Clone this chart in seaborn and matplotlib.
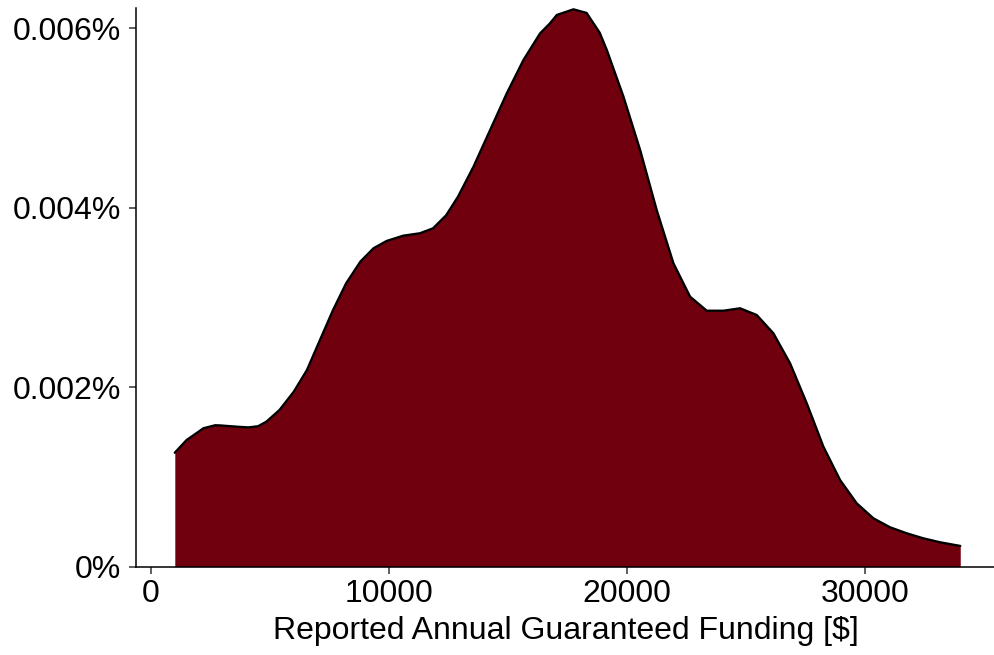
import matplotlib
matplotlib.use("Agg")
import matplotlib.pyplot as plt
import seaborn as sns
import pandas as pd
from matplotlib.ticker import FuncFormatter

# Density curve (x in $, density in %)
funding = [1000, 1500, 2000, 2200, 2700, 2900, 3600, 4100, 4500, 4850, 5400, 6000,
           6550, 7100, 7650, 8200, 8800, 9350, 9900, 10600, 11300, 11850, 12400,
           12900, 13550, 14250, 14950, 15650, 16350, 16750, 17050, 17750, 18300,
           18450, 18850, 19150, 19850, 20550, 21250, 21950, 22650, 23350, 24050,
           24750, 25450, 26150, 26850, 27550, 28250, 28950, 29650, 30350, 31050,
           31750, 32450, 33150, 34000]
density_pct = [0.001270, 0.001412, 0.001504, 0.001542, 0.001576, 0.001574, 0.001560,
               0.001552, 0.001565, 0.001616, 0.001746, 0.001950, 0.002190, 0.002526,
               0.002860, 0.003158, 0.003400, 0.003548, 0.003629, 0.003688, 0.003715,
               0.003770, 0.003915, 0.004123, 0.004457, 0.004866, 0.005275, 0.005646,
               0.005943, 0.006050, 0.006147, 0.006210, 0.006170, 0.006110, 0.005950,
               0.005757, 0.005237, 0.004643, 0.003970, 0.003380, 0.003008, 0.002852,
               0.002852, 0.002879, 0.002804, 0.002600, 0.002266, 0.001821, 0.001337,
               0.000966, 0.000706, 0.000539, 0.000439, 0.000372, 0.000316, 0.000272,
               0.000231]
x_ticks = [0, 10000, 20000, 30000]
y_ticks = [0, 0.002, 0.004, 0.006]
x_label = "Reported Annual Guaranteed Funding [$]"

df = pd.DataFrame({"funding": funding, "density": density_pct})

sns.set_theme(style="ticks")
plt.rcParams["font.family"] = ["Liberation Sans", "DejaVu Sans"]

fig = plt.figure(figsize=(9.95, 6.55), dpi=100)
ax = fig.add_axes([136 / 995, 88.3 / 655, (995 - 136) / 995, (566.7 - 8) / 655])

fill_col = "#71000F"
ax.fill_between(df["funding"], 0, df["density"], color=fill_col, linewidth=0, zorder=1)
sns.lineplot(data=df, x="funding", y="density", ax=ax, color="black", linewidth=1.7,
             zorder=2, sort=False)

ax.set_xlim(-630, 35460)
ax.set_ylim(0, 0.006225)
ax.set_xticks(x_ticks)
ax.set_yticks(y_ticks)
ax.yaxis.set_major_formatter(FuncFormatter(lambda v, p: "0%" if v == 0 else f"{v:.3f}%"))
ax.xaxis.set_major_formatter(FuncFormatter(lambda v, p: f"{int(v)}"))

ax.set_xlabel(x_label, fontsize=23, color="black", labelpad=5)
ax.set_ylabel("")
ax.tick_params(axis="both", labelsize=23, labelcolor="black", color="#333333",
               length=5, width=1.1)
ax.tick_params(axis="y", pad=5.5)
ax.tick_params(axis="x", pad=4)
for s in ["top", "right"]:
    ax.spines[s].set_visible(False)
for s in ["left", "bottom"]:
    ax.spines[s].set_color("black")
    ax.spines[s].set_linewidth(1.1)

fig.savefig("out.png", dpi=100)
